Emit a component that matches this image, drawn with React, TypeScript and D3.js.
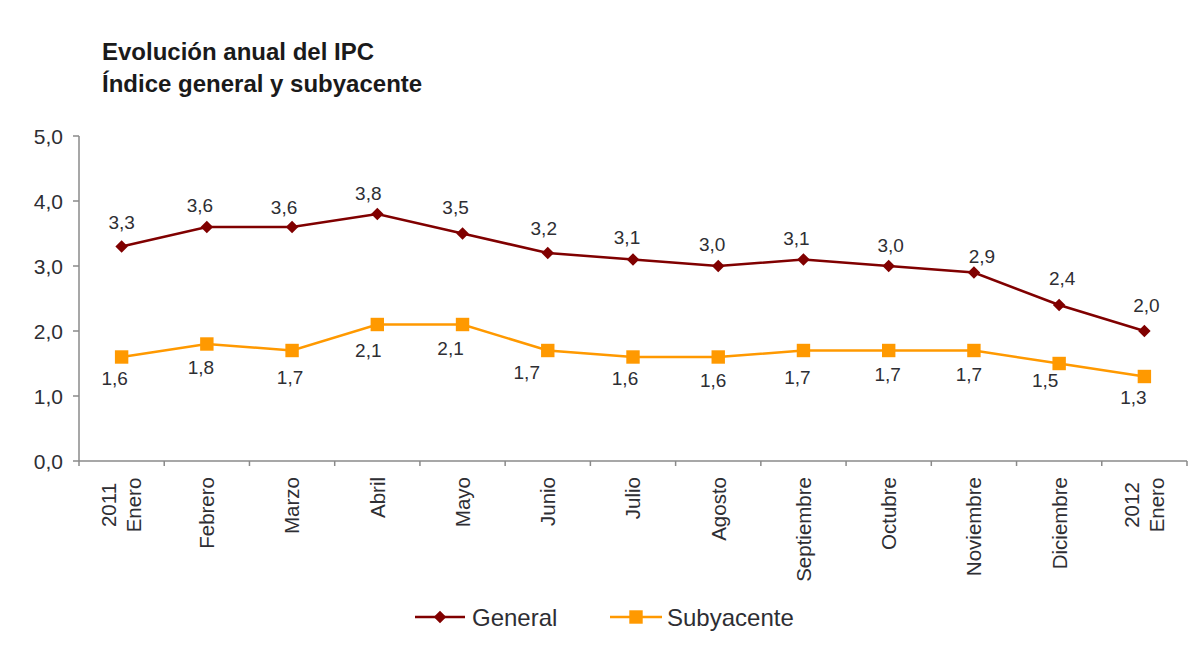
import React from "react";
import * as d3 from "d3";

const categories = [
  "2011|Enero", "Febrero", "Marzo", "Abril", "Mayo", "Junio", "Julio",
  "Agosto", "Septiembre", "Octubre", "Noviembre", "Diciembre", "2012|Enero",
];
const generalValues = [3.3, 3.6, 3.6, 3.8, 3.5, 3.2, 3.1, 3.0, 3.1, 3.0, 2.9, 2.4, 2.0];
const subyacenteValues = [1.6, 1.8, 1.7, 2.1, 2.1, 1.7, 1.6, 1.6, 1.7, 1.7, 1.7, 1.5, 1.3];
const yTicks = [0, 1, 2, 3, 4, 5];
const seriesNames = ["General", "Subyacente"];
const titleLines = ["Evolución anual del IPC", "Índice general y subyacente"];

// label nudges (layout, px)
const genDx = [0, -7, -8, -9, -7, -4, -6, -6, -7, 2, 8, 3, 2];
const genDy = [-18, -15, -13, -14, -20, -18, -16, -15, -15, -14, -10, -20, -19];
const subDx = [-7, -6, -2, -9, -12, -21, -8, -5, -6, -1, -5, -14, -11];
const subDy = [28, 30, 33, 32, 30, 28, 28, 30, 33, 30, 30, 23, 27];

const W = 1200;
const H = 672;
const FONT = "'Liberation Sans', Arial, Helvetica, sans-serif";
const GEN_COLOR = "#800000";
const SUB_COLOR = "#FF9900";
const AXIS_COLOR = "#8a8a8a";
const TEXT_COLOR = "#2e2e33";

const fmt = (v: number) => v.toFixed(1).replace(".", ",");

export default function App() {
  const x = d3.scaleBand<string>().domain(categories).range([79, 1187]).paddingInner(0).paddingOuter(0);
  const y = d3.scaleLinear().domain([0, 5]).range([461, 136]);
  const cx = (i: number) => (x(categories[i]) as number) + x.bandwidth() / 2;

  const line = d3
    .line<number>()
    .x((_, i) => cx(i))
    .y((d) => y(d));

  const boundaries = d3.range(categories.length + 1).map((i) => 79 + i * x.bandwidth());

  const diamond = d3.symbol().type(d3.symbolDiamond2).size(100)();
  const square = d3.symbol().type(d3.symbolSquare).size(180)();

  return (
    <svg width={W} height={H} style={{ position: "absolute", left: 0, top: 0, background: "#fff" }} fontFamily={FONT}>
      <rect x={0} y={0} width={W} height={H} fill="#fff" />
      {/* Title */}
      {titleLines.map((t, i) => (
        <text key={t} x={102} y={60 + i * 32} fontSize={24} fontWeight="bold" fill="#1a1a1a">
          {t}
        </text>
      ))}

      {/* Y axis */}
      <line x1={79} x2={79} y1={y(5)} y2={y(0)} stroke={AXIS_COLOR} strokeWidth={1.5} />
      {yTicks.map((t) => (
        <g key={t}>
          <line x1={73} x2={79} y1={y(t)} y2={y(t)} stroke={AXIS_COLOR} strokeWidth={1.5} />
          <text x={63} y={y(t)} dy="0.36em" textAnchor="end" fontSize={21} fill={TEXT_COLOR}>
            {fmt(t)}
          </text>
        </g>
      ))}

      {/* X axis */}
      <line x1={79} x2={1187} y1={y(0)} y2={y(0)} stroke={AXIS_COLOR} strokeWidth={1.5} />
      {boundaries.map((bx, i) => (
        <line key={i} x1={bx} x2={bx} y1={y(0)} y2={y(0) + 5} stroke={AXIS_COLOR} strokeWidth={1.5} />
      ))}
      {categories.map((c, i) => {
        const parts = c.split("|");
        const px = cx(i);
        if (parts.length === 1) {
          return (
            <text
              key={c}
              transform={`translate(${px},${477}) rotate(-90)`}
              textAnchor="end"
              dy="0.36em"
              fontSize={20.5}
              fill={TEXT_COLOR}
            >
              {c}
            </text>
          );
        }
        return (
          <text key={c} transform={`translate(${px},${505}) rotate(-90)`} textAnchor="middle" fontSize={20.5} fill={TEXT_COLOR}>
            <tspan x={0} dy="-0.28em">{parts[0]}</tspan>
            <tspan x={0} dy="1.25em">{parts[1]}</tspan>
          </text>
        );
      })}

      {/* Lines */}
      <path d={line(subyacenteValues) || ""} fill="none" stroke={SUB_COLOR} strokeWidth={2.5} />
      <path d={line(generalValues) || ""} fill="none" stroke={GEN_COLOR} strokeWidth={2.5} />

      {/* Markers */}
      {subyacenteValues.map((v, i) => (
        <path key={"s" + i} d={square || ""} transform={`translate(${cx(i)},${y(v)})`} fill={SUB_COLOR} />
      ))}
      {generalValues.map((v, i) => (
        <path key={"g" + i} d={diamond || ""} transform={`translate(${cx(i)},${y(v)})`} fill={GEN_COLOR} />
      ))}

      {/* Data labels */}
      {generalValues.map((v, i) => (
        <text key={"gl" + i} x={cx(i) + genDx[i]} y={y(v) + genDy[i]} textAnchor="middle" fontSize={19} fill={TEXT_COLOR}>
          {fmt(v)}
        </text>
      ))}
      {subyacenteValues.map((v, i) => (
        <text key={"sl" + i} x={cx(i) + subDx[i]} y={y(v) + subDy[i]} textAnchor="middle" fontSize={19} fill={TEXT_COLOR}>
          {fmt(v)}
        </text>
      ))}

      {/* Legend */}
      <g>
        <line x1={415} x2={465} y1={617} y2={617} stroke={GEN_COLOR} strokeWidth={2.5} />
        <path d={diamond || ""} transform="translate(440,617)" fill={GEN_COLOR} />
        <text x={472} y={617} dy="0.36em" fontSize={24} fill={TEXT_COLOR}>
          {seriesNames[0]}
        </text>
        <line x1={610} x2={662} y1={617} y2={617} stroke={SUB_COLOR} strokeWidth={2.5} />
        <path d={square || ""} transform="translate(636,617)" fill={SUB_COLOR} />
        <text x={667} y={617} dy="0.36em" fontSize={24} fill={TEXT_COLOR}>
          {seriesNames[1]}
        </text>
      </g>
    </svg>
  );
}
